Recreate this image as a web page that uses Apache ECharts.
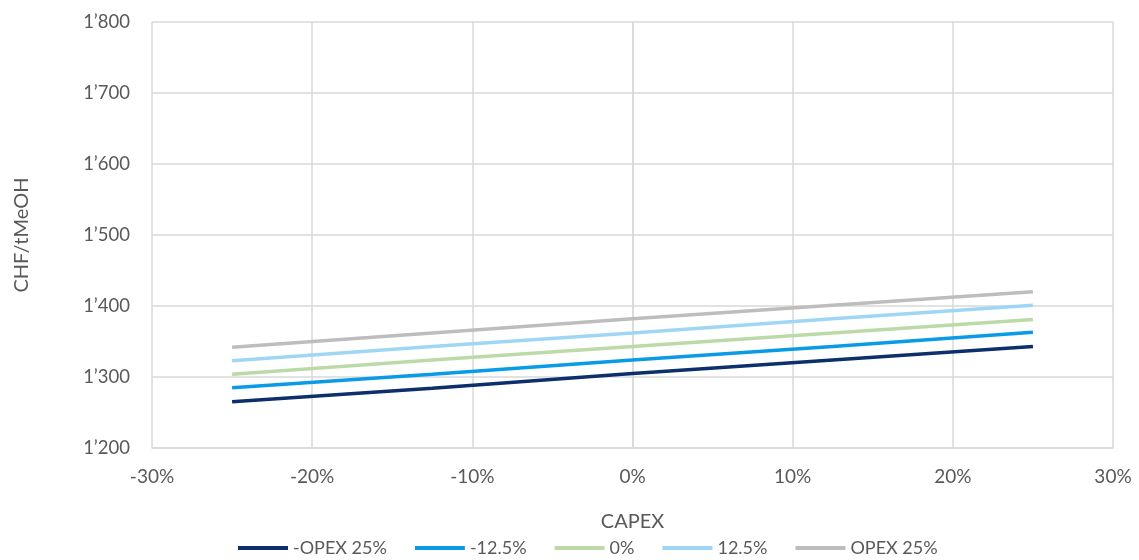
<!DOCTYPE html>
<html>
<head>
<meta charset="utf-8">
<script src="https://cdn.jsdelivr.net/npm/echarts@6/dist/echarts.min.js"></script>
<style>
  html, body { margin: 0; padding: 0; background: #fff; }
  #chart { width: 1139px; height: 560px; }
</style>
</head>
<body>
<div id="chart"></div>
<script>
// CAPEX variation (%) on the x axis
const capex = [-25, -12.5, 0, 12.5, 25];

// Methanol production cost (CHF per tonne) for each OPEX scenario
const seriesNames = ['-OPEX 25%', '-12.5%', '0%', '12.5%', 'OPEX 25%'];
const opexMinus25 = [1265, 1284, 1305, 1324, 1343];
const opexMinus125 = [1285, 1304, 1324, 1343, 1363];
const opexZero = [1304, 1324, 1343, 1362, 1381];
const opexPlus125 = [1323, 1343, 1362, 1382, 1401];
const opexPlus25 = [1342, 1362, 1382, 1401, 1420];
const seriesValues = [opexMinus25, opexMinus125, opexZero, opexPlus125, opexPlus25];
const seriesColors = ['#0D2F6B', '#0A9BE6', '#BCD9A8', '#9FD6F5', '#BDBDBD'];

const textColor = '#595959';
const gridColor = '#D9D9D9';
const fontFamily = 'Lato, "Open Sans", sans-serif';

function fmtThousands(v) {
  const s = String(Math.round(v));
  return s.length > 3 ? s.slice(0, s.length - 3) + '\u2019' + s.slice(-3) : s;
}

const chart = echarts.init(document.getElementById('chart'));
chart.setOption({
  animation: false,
  textStyle: { fontFamily: fontFamily },
  grid: { left: 152, right: 26, top: 22, bottom: 112, outerBoundsMode: 'none', containLabel: false },
  xAxis: {
    type: 'value',
    min: -30, max: 30, interval: 10,
    name: 'CAPEX',
    nameLocation: 'middle',
    nameGap: 64,
    nameTextStyle: { color: textColor, fontSize: 20, fontFamily: fontFamily },
    axisLine: { show: true, lineStyle: { color: gridColor, width: 1.5 } },
    axisTick: { show: false },
    splitLine: { show: true, lineStyle: { color: gridColor, width: 1.5 } },
    axisLabel: {
      color: textColor, fontSize: 19, margin: 19,
      formatter: v => v + '%'
    }
  },
  yAxis: {
    type: 'value',
    min: 1200, max: 1800, interval: 100,
    name: 'CHF/tMeOH',
    nameLocation: 'middle',
    nameGap: 120,
    nameRotate: 90,
    nameTextStyle: { color: textColor, fontSize: 20, fontFamily: fontFamily },
    axisLine: { show: true, lineStyle: { color: gridColor, width: 1.5 } },
    axisTick: { show: false },
    splitLine: { show: true, lineStyle: { color: gridColor, width: 1.5 } },
    axisLabel: {
      color: textColor, fontSize: 18.5, margin: 22,
      formatter: v => fmtThousands(v)
    }
  },
  legend: {
    top: 539,
    left: 238,
    padding: 0,
    icon: 'rect',
    itemWidth: 50,
    itemHeight: 4,
    itemGap: 28,
    textStyle: { color: textColor, fontSize: 18 },
    data: seriesNames
  },
  series: seriesNames.map((name, i) => ({
    name: name,
    type: 'line',
    symbol: 'none',
    data: capex.map((x, j) => [x, seriesValues[i][j]]),
    lineStyle: { color: seriesColors[i], width: 3.5 },
    itemStyle: { color: seriesColors[i] }
  }))
});
</script>
</body>
</html>
